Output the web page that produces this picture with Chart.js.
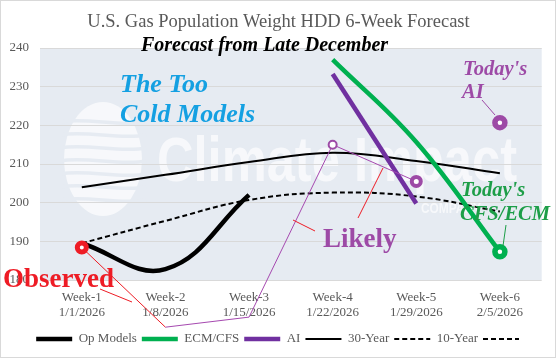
<!DOCTYPE html>
<html>
<head>
<meta charset="utf-8">
<script src="https://cdn.jsdelivr.net/npm/chart.js@4/dist/chart.umd.min.js"></script>
<style>
  html, body { margin: 0; background: #fff; }
  #wrap { width: 556px; height: 358px; }
</style>
</head>
<body>
<div id="wrap"><canvas id="hdd" width="556" height="358"></canvas></div>
<script>
/* HDD 6-week forecast chart, late December vintage */
const weeks = ['Week-1', 'Week-2', 'Week-3', 'Week-4', 'Week-5', 'Week-6'];
const dates = ['1/1/2026', '1/8/2026', '1/15/2026', '1/22/2026', '1/29/2026', '2/5/2026'];
const yRange = [180, 240];

const opModels   = [189.5, 182.8, 202.0, null, null, null];
const ecmCfs     = [null, null, null, 237.0, 215.7, 187.3];
const aiModel    = [null, null, null, 233.3, 199.8, null];
const thirtyYear = [204.0, 207.2, 210.5, 212.9, 210.8, 207.6];
const tenYear    = [189.5, 195.3, 200.7, 202.6, 201.6, 197.7];
const observed   = [188.4, 167.8, null, null, null, null];
const aiLateDec  = [null, 167.8, 170.4, 215.0, 205.5, null];
const aiToday    = [null, null, null, null, null, 220.7];

const legendNames = ['Op Models', 'ECM/CFS', 'AI', '30-Year', '10-Year'];

const FONT = "'Liberation Serif', 'Times New Roman', serif";
const GREY = '#595959';
const BG = '#e6ebf2';
const PURPLE = '#9d4aa6';
const GREEN = '#00b050';
const RED = '#ee1c25';

Chart.defaults.font.family = FONT;
Chart.defaults.font.size = 13;
Chart.defaults.color = GREY;

const backdrop = {
  id: 'backdrop',
  afterLayout(chart) {
    // nudge the legend row to the right, as in the source
    chart.legend.left += 10; chart.legend.right += 10;
  },
  beforeDraw(chart) {
    const { ctx, chartArea: a } = chart;
    ctx.save();
    ctx.fillStyle = '#fff'; ctx.fillRect(0, 0, chart.width, chart.height);
    ctx.fillStyle = BG; ctx.fillRect(a.left, a.top, a.right - a.left, a.bottom - a.top);
    // faint company watermark
    const wm = 'rgba(255,255,255,0.66)';
    ctx.fillStyle = wm;
    ctx.beginPath(); ctx.ellipse(103, 159, 39, 57, 0, 0, Math.PI * 2); ctx.fill();
    ctx.strokeStyle = BG; ctx.lineWidth = 3.5;
    for (let y = 122; y < 210; y += 13) {
      ctx.beginPath(); ctx.moveTo(60, y); ctx.bezierCurveTo(85, y - 5, 120, y + 5, 146, y); ctx.stroke();
    }
    ctx.fillStyle = wm;
    ctx.textBaseline = 'alphabetic';
    ctx.font = "bold 63px 'Liberation Sans', sans-serif";
    ctx.fillText('Climate Impact', 157, 181, 360);
    ctx.font = "bold 14px 'Liberation Sans', sans-serif";
    ctx.fillText('COMPANY', 421, 213, 60);
    ctx.restore();
  }
};

function seg(ctx, x1, y1, x2, y2, color) {
  ctx.strokeStyle = color; ctx.lineWidth = 1;
  ctx.beginPath(); ctx.moveTo(x1, y1); ctx.lineTo(x2, y2); ctx.stroke();
}
function label(ctx, s, x, y, font, color) {
  ctx.font = font; ctx.fillStyle = color; ctx.fillText(s, x, y);
}

const notes = {
  id: 'notes',
  afterDatasetsDraw(chart) {
    const { ctx } = chart;
    ctx.save();
    ctx.textBaseline = 'alphabetic'; ctx.textAlign = 'left';
    // callouts
    seg(ctx, 100, 289, 132, 302, RED);
    seg(ctx, 315, 231, 293, 220, RED);
    seg(ctx, 358, 218, 383, 168, RED);
    seg(ctx, 482, 100, 495, 115, PURPLE);
    seg(ctx, 506, 225, 503, 246, '#1d9e48');
    label(ctx, 'The Too', 120, 92, `bold italic 26px ${FONT}`, '#14a0e2');
    label(ctx, 'Cold Models', 120, 122, `bold italic 26px ${FONT}`, '#14a0e2');
    label(ctx, 'Observed', 3, 287, `bold 27px ${FONT}`, RED);
    label(ctx, 'Likely', 323, 247, `bold 27px ${FONT}`, PURPLE);
    label(ctx, "Today's", 463, 75, `bold italic 20.5px ${FONT}`, PURPLE);
    label(ctx, 'AI', 462, 98, `bold italic 20.5px ${FONT}`, PURPLE);
    label(ctx, "Today's", 461, 196, `bold italic 20.5px ${FONT}`, '#1d9e48');
    label(ctx, 'CFS/ECM', 460, 220, `bold italic 20.5px ${FONT}`, '#1d9e48');
    ctx.restore();
  },
  afterDraw(chart) {
    const { ctx } = chart;
    ctx.save();
    ctx.textBaseline = 'alphabetic'; ctx.textAlign = 'center';
    label(ctx, 'U.S. Gas Population Weight HDD 6-Week Forecast', 278.5, 27, `18.5px ${FONT}`, GREY);
    label(ctx, 'Forecast from Late December', 264.5, 51, `bold italic 20px ${FONT}`, '#000');
    ctx.strokeStyle = '#d9d9d9'; ctx.lineWidth = 1;
    ctx.strokeRect(0.5, 0.5, chart.width - 1, chart.height - 1);
    ctx.restore();
  }
};

const line = (extra) => Object.assign({
  pointRadius: 0, fill: false, spanGaps: false, clip: false, cubicInterpolationMode: 'default',
}, extra);

new Chart(document.getElementById('hdd'), {
  type: 'line',
  data: {
    labels: weeks.map((w, i) => [w, dates[i]]),
    datasets: [
      line({ label: 'Observed', data: observed, borderColor: RED, borderWidth: 1,
        pointRadius: [4.5, 5], pointBorderWidth: [5, 0], pointBackgroundColor: ['#fff', RED], pointBorderColor: RED }),
      line({ label: "Today's AI", data: aiToday, showLine: false, borderColor: PURPLE,
        pointRadius: 5, pointBorderWidth: 5.5, pointBackgroundColor: '#fff', pointBorderColor: PURPLE }),
      line({ label: 'AI late Dec', data: aiLateDec, borderColor: '#a649b0', borderWidth: 1,
        pointRadius: [0, 0, 3.5, 4, 4.5, 0], pointBorderWidth: [0, 0, 3.5, 2, 4, 0],
        pointBackgroundColor: '#fff', pointBorderColor: PURPLE }),
      line({ label: 'ECM/CFS', data: ecmCfs, borderColor: GREEN, backgroundColor: GREEN, borderWidth: 4.5, tension: 0.4,
        pointRadius: [0, 0, 0, 0, 0, 5], pointBorderWidth: 5.5, pointBackgroundColor: '#fff', pointBorderColor: GREEN }),
      line({ label: 'AI', data: aiModel, borderColor: '#7030a0', backgroundColor: '#7030a0', borderWidth: 4.5 }),
      line({ label: 'Op Models', data: opModels, borderColor: '#000', backgroundColor: '#000', borderWidth: 4.5, tension: 0.4 }),
      line({ label: '30-Year', data: thirtyYear, borderColor: '#000', backgroundColor: '#000', borderWidth: 2, tension: 0.4 }),
      line({ label: '10-Year', data: tenYear, borderColor: '#000', backgroundColor: '#000', borderWidth: 2, borderDash: [5, 3], tension: 0.4 }),
    ],
  },
  options: {
    responsive: false, animation: false, events: [],
    layout: { padding: { top: 48, left: 0, right: 14.3, bottom: 2.5 } },
    scales: {
      x: {
        offset: true,
        grid: { display: false }, border: { display: false },
        ticks: { maxRotation: 0, autoSkip: false, padding: 1.5, color: GREY, font: { size: 13, lineHeight: 1.2 } },
        afterFit: (s) => { s.height = 47.5; },
      },
      y: {
        min: yRange[0], max: yRange[1],
        grid: { color: '#d9d9d9', drawTicks: false }, border: { display: false },
        ticks: { stepSize: 10, padding: 11, color: GREY, font: { size: 13 } },
        afterFit: (s) => { s.width = 40; },
      },
    },
    plugins: {
      tooltip: { enabled: false },
      legend: {
        position: 'bottom',
        labels: {
          usePointStyle: true, pointStyle: 'line', pointStyleWidth: 36, padding: 5,
          color: GREY, font: { size: 13 },
          generateLabels(chart) {
            const items = Chart.defaults.plugins.legend.labels.generateLabels(chart)
              .filter((it) => legendNames.includes(it.text))
              .sort((a, b) => legendNames.indexOf(a.text) - legendNames.indexOf(b.text))
              .map((it) => {
                const ds = chart.data.datasets[it.datasetIndex];
                return Object.assign({}, it, { lineWidth: ds.borderWidth, lineDash: ds.borderDash || [], strokeStyle: ds.borderColor });
              });
            const ten = items.find((it) => it.text === '10-Year');
            items.push(Object.assign({}, ten, { text: '', datasetIndex: -1 }));
            return items;
          },
        },
      },
    },
  },
  plugins: [backdrop, notes],
});
</script>
</body>
</html>
